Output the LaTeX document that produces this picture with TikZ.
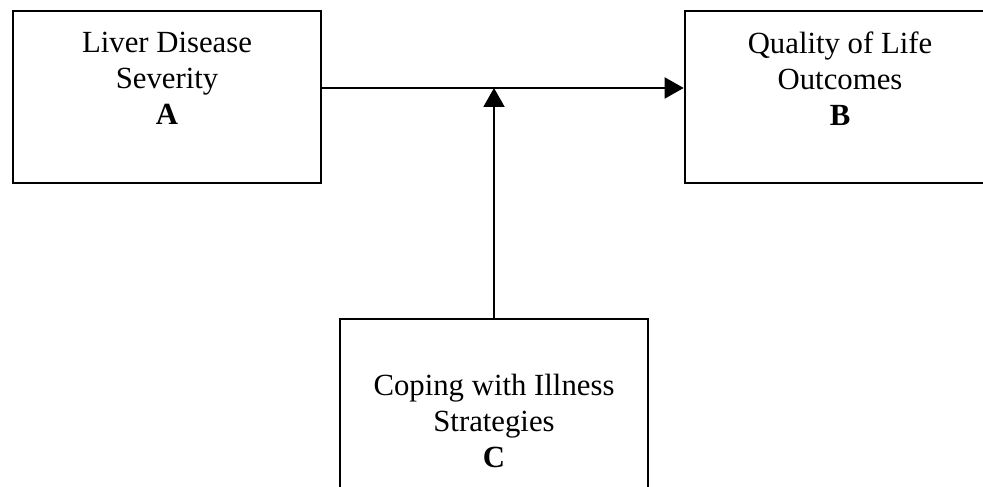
\documentclass[tikz,border=0pt]{standalone}
\usepackage{fontspec}
\setmainfont{Liberation Serif}
\usetikzlibrary{arrows.meta}

\tikzset{
	factor/.style={draw, line width=1.5pt, align=center, inner sep=0pt,
		minimum width=6.16cm, minimum height=3.44cm, text depth=0.74cm,
		font=\fontsize{17.5}{20.5}\selectfont},
	link/.style={line width=1.1pt, -{Triangle[length=0.38cm, width=0.42cm]}}
}

\begin{document}
\begin{tikzpicture}
			\clip (0, 0) rectangle (19.66, 9.74);
			\node [factor] (severity) at (3.34, 7.80) {Liver Disease\\Severity\\\textbf{A}};
			\node [factor, minimum width=6.20cm] (quality) at (16.80, 7.80) {Quality of Life\\Outcomes\\\textbf{B}};
			\node [factor, minimum height=4.06cm, text depth=0pt] (coping) at (9.88, 1.33) {Coping with Illness\\Strategies\\\textbf{C}};
			% moderation point on the main path
			\coordinate (hub) at (9.88, 7.98);
			\draw [link] (severity.east |- hub) -- (quality.west |- hub);
			\draw [link] (coping.north) -- (hub);
		\end{tikzpicture}
\end{document}
